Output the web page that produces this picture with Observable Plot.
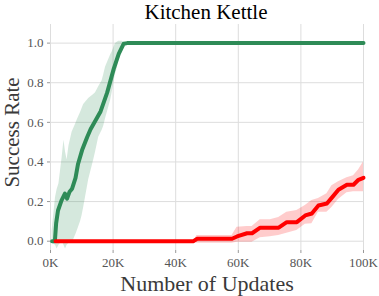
<!DOCTYPE html>
<html>
<head>
<meta charset="utf-8">
<script src="https://cdn.jsdelivr.net/npm/d3@7"></script>
<script src="https://cdn.jsdelivr.net/npm/@observablehq/plot@0.6"></script>
<style>
  body { margin: 0; background: #fff; }
  #wrap { width: 379px; height: 296px; overflow: hidden; }
  #title { height: 24px; width: 379px; position: relative; }
  #title span { position: absolute; left: 33px; right: 0; top: 0px; line-height: 24px; font-family: "Liberation Serif", serif; font-size: 21px; color: #000; text-align: center; white-space: nowrap; }
  svg { display: block; }
</style>
</head>
<body>
<div id="wrap">
  <div id="title"><span>Kitchen Kettle</span></div>
  <div id="chart"></div>
</div>
<script>
const title = "Kitchen Kettle";
const xLabel = "Number of Updates";
const yLabel = "Success Rate";
const xTicks = [0, 20000, 40000, 60000, 80000, 100000];
const yTicks = [0, 0.2, 0.4, 0.6, 0.8, 1.0];

// Green run (mean line)
const greenX = [500, 1400, 1800, 2400, 3500, 4600, 5300, 6100, 6900, 8000, 8800, 10100, 11700, 12800, 16000, 18100, 20200, 21800, 23400, 24500, 100000];
const greenY = [0, 0, 0.09, 0.155, 0.205, 0.24, 0.215, 0.25, 0.265, 0.32, 0.39, 0.46, 0.525, 0.565, 0.655, 0.75, 0.87, 0.946, 0.997, 1.0, 1.0];
// Green run (band)
const greenBandX = [500, 1600, 2100, 2700, 3700, 4300, 4800, 5300, 5900, 6900, 8000, 8500, 9600, 10100, 10600, 12200, 13800, 14400, 15400, 16500, 17000, 17600, 19200, 19700, 20700, 21300, 21800, 22900, 24000, 24500, 100000];
const greenLo = [-0.01, -0.02, -0.04, -0.02, 0.0, -0.02, -0.04, -0.02, -0.01, -0.01, 0.03, 0.05, 0.10, 0.13, 0.17, 0.31, 0.41, 0.45, 0.525, 0.56, 0.58, 0.62, 0.71, 0.75, 0.84, 0.87, 0.91, 0.955, 0.997, 1.0, 1.0];
const greenHi = [0.05, 0.22, 0.26, 0.29, 0.42, 0.51, 0.45, 0.41, 0.48, 0.55, 0.59, 0.61, 0.65, 0.67, 0.69, 0.72, 0.74, 0.75, 0.78, 0.81, 0.84, 0.88, 0.94, 0.955, 0.997, 1.005, 1.01, 1.01, 1.0, 1.0, 1.0];

// Red run (mean line and band)
const redX = [1600, 45700, 46800, 58000, 59600, 62800, 64400, 67000, 70200, 72900, 75500, 78700, 81400, 83500, 85600, 88300, 89900, 92000, 94700, 96800, 98400, 100000];
const redY = [0, 0, 0.012, 0.012, 0.024, 0.04, 0.04, 0.068, 0.068, 0.068, 0.096, 0.096, 0.13, 0.14, 0.18, 0.19, 0.22, 0.26, 0.285, 0.285, 0.31, 0.32];
const redLo = [0, 0, -0.01, -0.01, -0.005, -0.005, -0.005, 0.017, 0.022, 0.029, 0.04, 0.054, 0.085, 0.088, 0.146, 0.146, 0.17, 0.21, 0.245, 0.25, 0.25, 0.25];
const redHi = [0, 0, 0.029, 0.029, 0.07, 0.074, 0.074, 0.108, 0.108, 0.12, 0.146, 0.155, 0.18, 0.205, 0.215, 0.24, 0.28, 0.30, 0.32, 0.33, 0.36, 0.40];

const greenColor = "#2e8b57";
const redColor = "#ff0000";

const green = greenX.map((x, i) => ({x, y: greenY[i]}));
const greenBand = greenBandX.map((x, i) => ({x, lo: greenLo[i], hi: greenHi[i]}));
const red = redX.map((x, i) => ({x, y: redY[i], lo: redLo[i], hi: redHi[i]}));

const font = "Liberation Serif";

const plot = Plot.plot({
  width: 379,
  height: 272,
  marginLeft: 50,
  marginRight: 16,
  marginTop: 0,
  marginBottom: 46,
  style: {fontFamily: font, background: "#fff"},
  x: {domain: [0, 100000]},
  y: {domain: [-0.047, 1.094]},
  marks: [
    Plot.gridX(xTicks, {stroke: "#dddddd", strokeOpacity: 1, strokeWidth: 1}),
    Plot.gridY(yTicks, {stroke: "#dddddd", strokeOpacity: 1, strokeWidth: 1}),
    Plot.axisX(xTicks, {tickSize: 3, tickPadding: 4, stroke: "#999", fill: "#555", fontSize: 13, label: null, tickFormat: d => (d / 1000) + "K"}),
    Plot.axisY(yTicks, {tickSize: 3, tickPadding: 4, stroke: "#999", fill: "#555", fontSize: 13, label: null, tickFormat: d => d.toFixed(1)}),
    Plot.areaY(greenBand, {x: "x", y1: "lo", y2: "hi", fill: greenColor, fillOpacity: 0.2}),
    Plot.areaY(red, {x: "x", y1: "lo", y2: "hi", fill: redColor, fillOpacity: 0.2}),
    Plot.line(green, {x: "x", y: "y", stroke: greenColor, strokeWidth: 4, strokeLinejoin: "round"}),
    Plot.line(red, {x: "x", y: "y", stroke: redColor, strokeWidth: 4, strokeLinejoin: "round"}),
    Plot.text([xLabel], {frameAnchor: "bottom", lineAnchor: "bottom", dy: 40, fontSize: 22, fill: "#3a3a3a", fontFamily: font}),
    Plot.text([yLabel], {frameAnchor: "left", textAnchor: "middle", lineAnchor: "bottom", rotate: -90, dx: -31.5, dy: -5, fontSize: 21, fill: "#3a3a3a", fontFamily: font})
  ]
});
document.getElementById("chart").appendChild(plot);
</script>
</body>
</html>
